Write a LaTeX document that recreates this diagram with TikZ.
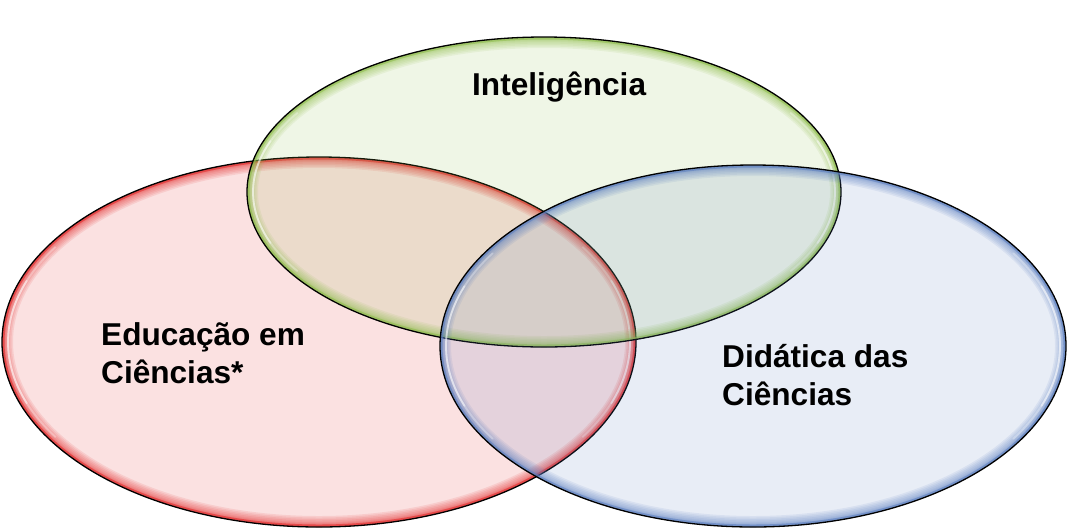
\documentclass[tikz,border=0pt]{standalone}
\usepackage{fontspec}
\setmainfont{Liberation Sans}
\definecolor{vred}{RGB}{224,40,40}
\definecolor{vgreen}{RGB}{142,188,75}
\definecolor{vblue}{RGB}{90,125,190}
\newcommand\vennbubble[6]{% name cx cy rx ry color
  \begin{scope}
    \clip (#2,#3) ellipse [x radius=#4, y radius=#5];
    \fill[#6, opacity=0.14] (#2,#3) ellipse [x radius=#4, y radius=#5];
    \foreach \w in {22,19,16,13,10,8,6,4}
      \draw[#6, opacity=0.11, line width=\w] (#2,#3) ellipse [x radius=#4, y radius=#5];
    \draw[#6, opacity=0.55, line width=5] (#2,#3) ellipse [x radius=#4, y radius=#5];
  \end{scope}
  \draw[hilite, opacity=0.3] (#2,#3) ++(148:#4-6 and #5-6) arc[start angle=148, end angle=212, x radius=#4-6, y radius=#5-6];
  \draw[hilite, opacity=0.45] (#2,#3) ++(160:#4-6 and #5-6) arc[start angle=160, end angle=200, x radius=#4-6, y radius=#5-6];
  \draw[hilite, opacity=0.3] (#2,#3) ++(-32:#4-6 and #5-6) arc[start angle=-32, end angle=32, x radius=#4-6, y radius=#5-6];
  \draw[hilite, opacity=0.45] (#2,#3) ++(-20:#4-6 and #5-6) arc[start angle=-20, end angle=20, x radius=#4-6, y radius=#5-6];
  \draw[outline] (#2,#3) ellipse [x radius=#4, y radius=#5];
  \coordinate (#1) at (#2,#3);
}
\begin{document}
\begin{tikzpicture}[x=1pt,y=-1pt,
  hilite/.style={white, line width=1.8, line cap=round},
  outline/.style={black, line width=1.3},
  lbl/.style={anchor=base west, inner sep=0pt, align=left,
    font=\fontsize{31.6}{38}\selectfont\bfseries}]
\useasboundingbox (0,0) rectangle (1067,531);
\vennbubble{red}{319}{342}{317}{185}{vred}
\vennbubble{green}{544}{192}{297}{155}{vgreen}
\vennbubble{blue}{753}{346}{313}{181}{vblue}
\node[lbl] (intel) at (472,95) {Inteligência};
\node[lbl] (edu) at (101,383) {Educação em\\Ciências*};
\node[lbl] (dida) at (722,405) {Didática das\\Ciências};
\end{tikzpicture}
\end{document}
